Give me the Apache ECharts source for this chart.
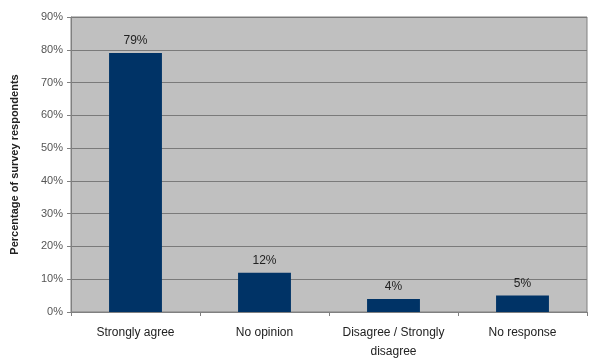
<!DOCTYPE html>
<html>
<head>
<meta charset="utf-8">
<script src="https://cdn.jsdelivr.net/npm/echarts@6/dist/echarts.min.js"></script>
<style>
  html, body { margin: 0; padding: 0; background: #fff; }
  #chart { width: 592px; height: 359px; }
</style>
</head>
<body>
<div id="chart"></div>
<script>
// categories and values
var categories = ['Strongly agree', 'No opinion', 'Disagree / Strongly\ndisagree', 'No response'];
var percents = [79, 12, 4, 5];
var yTicks = [0, 10, 20, 30, 40, 50, 60, 70, 80, 90];

var myChart = echarts.init(document.getElementById('chart'));

var option = {
    animation: false,
    textStyle: { fontFamily: 'Liberation Sans, Arial, sans-serif' },
    grid: {
        left: 71,
        right: 5,
        top: 17,
        bottom: 47,
        outerBoundsMode: 'none',
        show: true,
        backgroundColor: '#c0c0c0',
        borderColor: '#808080',
        borderWidth: 1
    },
    xAxis: {
        type: 'category',
        data: categories,
        axisLine: { lineStyle: { color: '#808080' } },
        axisTick: { show: true, length: 4, lineStyle: { color: '#808080' } },
        axisLabel: { color: '#222', fontSize: 12, margin: 11, lineHeight: 19, interval: 0, hideOverlap: false }
    },
    yAxis: {
        type: 'value',
        min: yTicks[0],
        max: yTicks[yTicks.length - 1],
        interval: 10,
        name: 'Percentage of survey respondents',
        nameLocation: 'middle',
        nameGap: 51,
        nameTextStyle: { color: '#222', fontSize: 11, fontWeight: 'bold' },
        axisLine: { show: true, lineStyle: { color: '#808080' } },
        axisTick: { show: true, length: 4, lineStyle: { color: '#808080' } },
        axisLabel: { color: '#555', fontSize: 11, formatter: '{value}%' },
        splitLine: { lineStyle: { color: '#7a7a7a', width: 1 } }
    },
    series: [
        {
            type: 'bar',
            data: percents,
            barWidth: '41%',
            itemStyle: { color: '#003366' },
            label: {
                show: true,
                position: 'top',
                distance: 6,
                formatter: '{c}%',
                color: '#222',
                fontSize: 12
            }
        }
    ]
};

myChart.setOption(option);
</script>
</body>
</html>
